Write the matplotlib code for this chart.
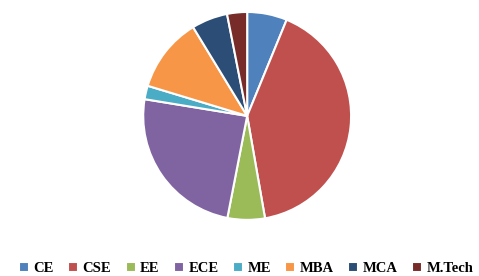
import matplotlib
matplotlib.use("Agg")
import matplotlib.pyplot as plt

# Department share
departments = ["CE", "CSE", "EE", "ECE", "ME", "MBA", "MCA", "M.Tech"]
shares = [6.2, 41.0, 5.8, 24.5, 2.1, 11.6, 5.6, 3.1]
colors = ["#4F81BD", "#C0504D", "#9BBB59", "#8064A2",
          "#4BACC6", "#F79646", "#2C4D75", "#772C2A"]

plt.rcParams['font.family'] = ['Liberation Serif', 'DejaVu Serif']

fig = plt.figure(figsize=(4.79, 2.76), dpi=100)
ax = fig.add_axes([0.299, 0.203, 0.434, 0.754])
wedges, _ = ax.pie(shares, colors=colors, startangle=90, counterclock=False,
                   wedgeprops=dict(edgecolor='white', linewidth=1.5))
ax.set_xlim(-1.0, 1.0)
ax.set_ylim(-1.0, 1.0)
ax.set_aspect('equal')

fig.legend(wedges, departments, loc='lower center', bbox_to_anchor=(0.514, -0.045),
           ncol=8, frameon=False, handlelength=0.7, handleheight=0.7,
           handletextpad=0.3, columnspacing=0.98,
           prop={'size': 10.5, 'weight': 'bold'})

fig.savefig("out.png", dpi=100)
